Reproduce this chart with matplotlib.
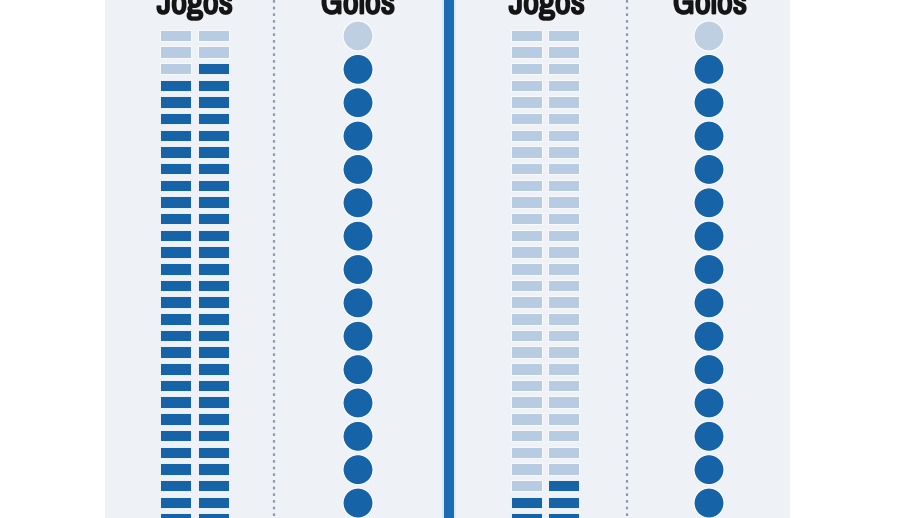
import matplotlib
matplotlib.use("Agg")
import matplotlib.pyplot as plt
from matplotlib.patches import Rectangle, Circle
from matplotlib import font_manager
import matplotlib.patheffects as pe

# ---- data ----
headers = ["Jogos", "Golos"]
jogos_total = [60, 60]      # visible game cells per panel
jogos_dark = [55, 5]        # dark (highlighted) game cells per panel
golos_total = [15, 15]      # visible goal circles per panel
golos_dark = [14, 14]       # dark goal circles per panel

# ---- style ----
DARK = "#1664a7"
LIGHT_SQ = "#b7cbe2"
LIGHT_CI = "#bfcfe2"
BG = "#eef1f6"
TEXT = "#151515"

names = {f.name for f in font_manager.fontManager.ttflist}
if "Liberation Sans Narrow" in names:
    head_family = ["Liberation Sans Narrow", "DejaVu Sans"]
    head_stretch = "normal"
else:
    cand = sorted(n for n in names if "Narrow" in n or "Condensed" in n)
    if cand:
        head_family = [cand[0], "DejaVu Sans"]
        head_stretch = "normal"
    else:
        head_family = ["DejaVu Sans"]
        head_stretch = "condensed"
head_size = 25

fig = plt.figure(figsize=(9.2, 5.18), dpi=100)
ax = fig.add_axes([0, 0, 1, 1])
ax.set_xlim(0, 920)
ax.set_ylim(518, 0)
ax.axis("off")

# background panel
ax.add_patch(Rectangle((105, 0), 685, 518, facecolor=BG, edgecolor="none", zorder=0))

# layout
jog_x = [(160, 198), (511, 548)]
cell_w, cell_h = 31.5, 11.5
row_top0, row_pitch = 29.5, 16.68
gol_x = [358, 709]
gol_y0, gol_pitch, gol_r = 36, 33.36, 15
head_x = [(195, 358), (547, 710)]
dash_x = [274, 627]

for p in range(2):
    # games: two columns, filled from bottom, right column first
    n = jogos_total[p]
    nrows = n // 2
    for i in range(n):
        row = nrows - 1 - i // 2
        col = 1 - (i % 2)
        color = DARK if i < jogos_dark[p] else LIGHT_SQ
        x = jog_x[p][col]
        y = row_top0 + row * row_pitch
        ax.add_patch(Rectangle((x, y), cell_w, cell_h, facecolor=color,
                               edgecolor="white", linewidth=0.6, zorder=2))
    # goals: filled from bottom
    m = golos_total[p]
    for j in range(m):
        k = m - 1 - j
        color = DARK if j < golos_dark[p] else LIGHT_CI
        ax.add_patch(Circle((gol_x[p], gol_y0 + k * gol_pitch), gol_r,
                            facecolor=color, edgecolor="white", linewidth=0.8, zorder=2))
    # headers
    for h, hx in zip(headers, head_x[p]):
        ax.text(hx, 13.5, h, ha="center", va="baseline", fontsize=head_size,
                fontweight="bold", family=head_family, fontstretch=head_stretch,
                color=TEXT, zorder=3,
                path_effects=[pe.withStroke(linewidth=1.3, foreground=TEXT)])
    # dotted separator
    ax.plot([dash_x[p], dash_x[p]], [0, 518], color="#8c9bb0",
            linewidth=1.6, linestyle=(0, (1.2, 1.8)), zorder=1)

# central blue divider
ax.plot([449.5, 449.5], [0, 518], color="#dbe8f5", linewidth=10, zorder=1,
        solid_capstyle="butt")
ax.plot([449.5, 449.5], [0, 518], color="#1b6cb3", linewidth=7.2, zorder=1,
        solid_capstyle="butt")

fig.savefig("out.png", dpi=100)
